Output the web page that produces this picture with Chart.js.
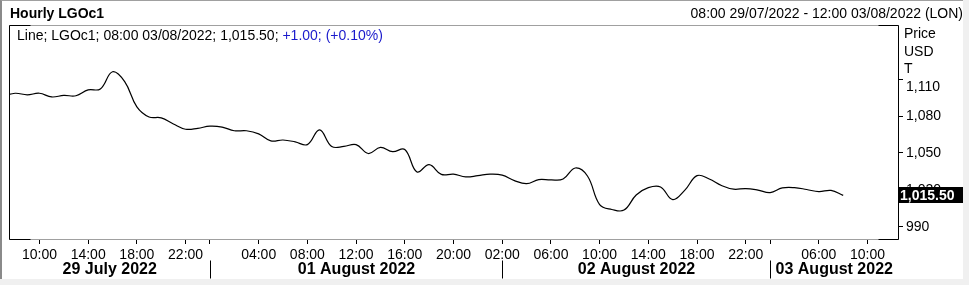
<!DOCTYPE html>
<html>
<head>
<meta charset="utf-8">
<script src="https://cdn.jsdelivr.net/npm/chart.js@4.4.0/dist/chart.umd.min.js"></script>
<style>
  body { margin: 0; }
  #wrap { position: relative; width: 969px; height: 285px; background: #f0f0f0; overflow: hidden; }
  #panel { position: absolute; left: 0; top: 0; width: 961px; height: 278px; background: #fff;
           border-left: 2px solid #8a8a8a; border-top: 1px solid #a0a0a0; }
  #chart { position: absolute; left: 0; top: 0; }
  .txt { position: absolute; font: 14px "Liberation Sans", Arial, sans-serif; line-height: 16px;
         white-space: nowrap; color: #000; }
  .blue { color: #1a1acc; }
</style>
</head>
<body>
<div id="wrap">
  <div id="panel"></div>
  <canvas id="chart" width="969" height="285"></canvas>
  <div class="txt" style="left:10px;top:5px;font-weight:bold">Hourly LGOc1</div>
  <div class="txt" style="right:6px;top:5px">08:00 29/07/2022 - 12:00 03/08/2022 (LON)</div>
  <div class="txt" style="left:17px;top:27px">Line; LGOc1; 08:00 03/08/2022; 1,015.50; <span class="blue">+1.00; (+0.10%)</span></div>
  <div class="txt" style="left:904px;top:25px">Price</div>
  <div class="txt" style="left:904px;top:43px">USD</div>
  <div class="txt" style="left:904px;top:60px">T</div>
</div>
<script>
// jours affichés (la séance saute le week-end et la nuit)
const dayNames = ['29 July 2022', '01 August 2022', '02 August 2022', '03 August 2022'];
const dayKeys = ['29/07', '01/08', '02/08', '03/08'];
const dayFirstHour = [7, 0, 2, 2];
const dayLastHour = [23, 23, 23, 12];

const timeTicks = [
  '29/07 10:00', '29/07 14:00', '29/07 18:00', '29/07 22:00',
  '01/08 04:00', '01/08 08:00', '01/08 12:00', '01/08 16:00', '01/08 20:00',
  '02/08 02:00', '02/08 06:00', '02/08 10:00', '02/08 14:00', '02/08 18:00', '02/08 22:00',
  '03/08 06:00', '03/08 10:00'
];

// clôtures horaires, de 07:00 29/07 à 12:00 03/08
const prices = [
  1096.0,
  1098.5, 1097.25, 1098.5, 1095.5, 1096.75, 1096.5, 1101.25, 1102.0,
  1116.0, 1108.0, 1087.5, 1079.25, 1078.5, 1073.5, 1069.25, 1070.0,
  1071.75, 1071.0, 1068.0, 1068.0, 1065.5, 1059.75, 1060.5, 1059.0,
  1056.75, 1068.75, 1055.25, 1055.25, 1056.75, 1049.5, 1054.5, 1051.0,
  1052.75, 1034.5, 1040.5, 1032.5, 1032.75, 1030.5, 1031.5, 1032.75,
  1032.0, 1027.5, 1025.0, 1028.25, 1028.0, 1028.75, 1037.75, 1031.25,
  1008.0, 1004.0, 1003.5, 1015.75, 1021.75, 1022.25, 1012.0, 1019.75,
  1031.5, 1028.75, 1023.5, 1020.5, 1021.0, 1019.75,
  1017.75, 1021.5, 1021.75, 1020.25, 1018.5, 1019.5, 1015.5,
  null, null, null, null
];

const yTicks = [990, 1020, 1050, 1080, 1110];
const yMin = 980;
const yMax = 1154;

const pad = n => String(n).padStart(2, '0');
const slotLabels = [];
dayKeys.forEach((d, i) => {
  for (let h = dayFirstHour[i]; h <= dayLastHour[i]; h++) slotLabels.push(`${d} ${pad(h)}:00`);
});
const daySeparators = dayKeys.slice(1).map((d, i) => `${d} ${pad(dayFirstHour[i + 1])}:00`);

const FONT = '"Liberation Sans", Arial, sans-serif';
Chart.defaults.font.family = FONT;
Chart.defaults.font.size = 14;
Chart.defaults.color = '#000';

const framePlugin = {
  id: 'frame',
  afterDraw(chart) {
    const { ctx, chartArea: a, scales: { x, y } } = chart;
    const L = Math.round(a.left) + 0.5, R = Math.round(a.right) + 0.5;
    const T = Math.round(a.top) + 0.5, B = Math.round(a.bottom) + 0.5;
    ctx.save();
    ctx.lineWidth = 1;

    // cadre gris avec coins noirs
    ctx.strokeStyle = '#a0a0a0';
    ctx.beginPath();
    ctx.moveTo(L, T); ctx.lineTo(R, T);
    ctx.moveTo(L, B); ctx.lineTo(R, B);
    ctx.stroke();
    ctx.strokeStyle = '#000';
    ctx.beginPath();
    ctx.moveTo(L, T); ctx.lineTo(L, B);
    ctx.moveTo(R, T); ctx.lineTo(R, B);
    ctx.moveTo(L, T); ctx.lineTo(L + 21, T);
    ctx.moveTo(R - 20, T); ctx.lineTo(R, T);
    ctx.moveTo(L, B); ctx.lineTo(L + 21, B);
    ctx.moveTo(R - 20, B); ctx.lineTo(R, B);
    ctx.stroke();

    // séparateurs de jours + libellés
    const sepX = daySeparators.map(k => Math.round(x.getPixelForValue(slotLabels.indexOf(k))) + 0.5);
    ctx.beginPath();
    sepX.forEach(px => { ctx.moveTo(px, B + 21); ctx.lineTo(px, B + 39); });
    ctx.stroke();

    ctx.font = 'bold 16px ' + FONT;
    ctx.textAlign = 'center';
    ctx.textBaseline = 'alphabetic';
    ctx.fillStyle = '#000';
    dayNames.forEach((name, i) => {
      const start = i === 0 ? a.left : sepX[i - 1];
      const end = i === dayNames.length - 1 ? a.right : sepX[i];
      ctx.fillText(name, (start + end) / 2, 274);
    });

    // étiquette de la dernière valeur
    const last = prices.filter(v => v !== null).pop();
    const py = Math.round(y.getPixelForValue(last));
    ctx.fillStyle = '#000';
    ctx.fillRect(Math.round(a.right), py - 8, 65, 16);
    ctx.fillStyle = '#fff';
    ctx.font = 'bold 14px ' + FONT;
    ctx.textAlign = 'left';
    ctx.textBaseline = 'middle';
    ctx.fillText(last.toLocaleString('en-US', { minimumFractionDigits: 2 }), Math.round(a.right) + 2, py + 1);
    ctx.restore();
  }
};

const ctx = document.getElementById('chart').getContext('2d');
new Chart(ctx, {
  type: 'line',
  data: {
    labels: slotLabels,
    datasets: [{
      data: prices,
      borderColor: '#000',
      borderWidth: 1.2,
      tension: 0.4,
      pointRadius: 0,
      fill: false
    }]
  },
  options: {
    responsive: false,
    animation: false,
    devicePixelRatio: 1,
    layout: { padding: { left: 9, top: 25, right: 0, bottom: 0 } },
    plugins: { legend: { display: false }, tooltip: { enabled: false } },
    scales: {
      x: {
        type: 'category',
        min: '29/07 08:00',
        offset: true,
        border: { display: false },
        grid: { drawOnChartArea: false, drawTicks: true, tickLength: 5, color: '#000' },
        ticks: {
          autoSkip: false,
          maxRotation: 0,
          padding: 3,
          callback: function (val) {
            const lbl = this.getLabelForValue(val);
            if (timeTicks.includes(lbl)) return lbl.slice(6);
            if (daySeparators.includes(lbl)) return '';
            return null;
          }
        },
        afterFit: s => { s.height = 46; }
      },
      y: {
        position: 'right',
        min: yMin,
        max: yMax,
        bounds: 'data',
        border: { display: false },
        grid: { drawOnChartArea: false, drawTicks: true, tickLength: 5, color: '#000' },
        afterBuildTicks: s => { s.ticks = yTicks.map(v => ({ value: v })); },
        ticks: {
          padding: 3,
          callback: v => v === yTicks[yTicks.length - 1]
            ? ['', v.toLocaleString('en-US')]
            : v.toLocaleString('en-US')
        },
        afterFit: s => { s.width = 71; }
      }
    }
  },
  plugins: [framePlugin]
});
</script>
</body>
</html>
